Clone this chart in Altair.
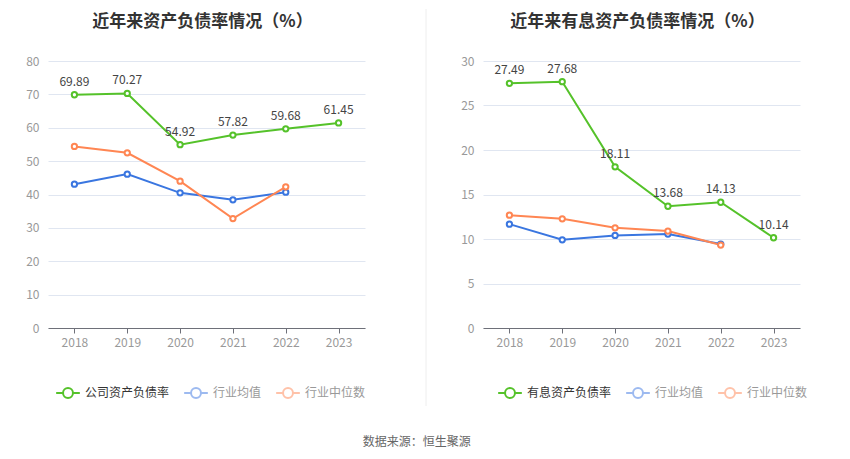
import altair as alt
import pandas as pd

years = ["2018", "2019", "2020", "2021", "2022", "2023"]

left_title = "近年来资产负债率情况（%）"
left_names = ["公司资产负债率", "行业均值", "行业中位数"]
left_company = [69.89, 70.27, 54.92, 57.82, 59.68, 61.45]
left_avg = [43.1, 46.1, 40.5, 38.4, 40.7]
left_median = [54.4, 52.5, 44.0, 32.8, 42.3]

right_title = "近年来有息资产负债率情况（%）"
right_names = ["有息资产负债率", "行业均值", "行业中位数"]
right_company = [27.49, 27.68, 18.11, 13.68, 14.13, 10.14]
right_avg = [11.67, 9.91, 10.40, 10.55, 9.43]
right_median = [12.68, 12.27, 11.26, 10.89, 9.32]

source_text = "数据来源：恒生聚源"

FONT = "Noto Sans CJK SC"
COLORS = ["#55c22a", "#3a76e0", "#ff8653"]
LEGEND_COLORS = ["#55c22a", "#9dbaf0", "#ffc2a9"]
SYMBOL = "M-1,0H-0.42M0.42,0H1M0.42,0A0.42,0.42,0,1,1,-0.42,0A0.42,0.42,0,1,1,0.42,0Z"
W, H = 317, 267


def panel(title, names, series, ymax, step, legend_x, divider=False):
    rows = []
    for name, vals in zip(names, series):
        for yr, v in zip(years, vals):
            rows.append({"year": yr, "series": name, "value": v})
    df = pd.DataFrame(rows)
    comp = df[df["series"] == names[0]]

    x = alt.X(
        "year:O",
        scale=alt.Scale(type="point", padding=0.5, domain=years),
        axis=alt.Axis(
            title=None, labelAngle=0, grid=False, domainColor="#6e7079",
            tickColor="#6e7079", tickSize=5, labelPadding=4,
        ),
    )
    y = alt.Y(
        "value:Q",
        scale=alt.Scale(domain=[0, ymax], nice=False, zero=True),
        axis=alt.Axis(
            title=None, values=list(range(0, ymax + 1, step)), domain=False,
            ticks=False, gridColor="#e0e6f1", labelPadding=9,
        ),
    )
    first = names[0]
    legend = alt.Legend(
        orient="none", legendX=legend_x, legendY=319, direction="horizontal",
        title=None, symbolType=SYMBOL, symbolSize=560, symbolStrokeWidth=2,
        symbolFillColor="white", labelFont=FONT, labelFontSize=12,
        labelColor=alt.ExprRef(f"datum.value === '{first}' ? '#333333' : '#999999'"),
        columnPadding=10, labelOffset=4,
    )
    legend_color = alt.Color(
        "series:N", scale=alt.Scale(domain=names, range=LEGEND_COLORS), legend=legend
    )
    stroke = alt.Stroke("series:N", scale=alt.Scale(domain=names, range=COLORS), legend=None)

    legend_layer = alt.Chart(df).transform_filter("false").mark_line(strokeWidth=2).encode(
        x=x, y=y, color=legend_color
    )
    lines = alt.Chart(df).mark_line(strokeWidth=2).encode(x=x, y=y, stroke=stroke, detail="series:N")
    points = alt.Chart(df).mark_point(
        shape="circle", filled=True, fill="white", strokeWidth=2, size=28, opacity=1
    ).encode(x=x, y=y, stroke=stroke)
    labels = alt.Chart(comp).mark_text(
        dy=-13, fontSize=12, color="#444444", font=FONT
    ).encode(x=x, y=y, text=alt.Text("value:Q", format=".2f"))
    title_mark = alt.Chart(pd.DataFrame({"t": [title]})).mark_text(
        fontSize=17, fontWeight="bold", color="#333333", font=FONT, baseline="middle", align="center"
    ).encode(text="t:N", x=alt.value(W / 2 - 4), y=alt.value(-39))

    layers = [legend_layer, lines, points, labels, title_mark]
    if divider:
        rule = alt.Chart(pd.DataFrame({"d": [0]})).mark_rule(color="#eeeeee", strokeWidth=1).encode(
            x=alt.value(-57), y=alt.value(-52), y2=alt.value(345)
        )
        layers = [rule] + layers
    return alt.layer(*layers).properties(width=W, height=H)


left = panel(left_title, left_names, [left_company, left_avg, left_median], 80, 10, 7)
right = panel(right_title, right_names, [right_company, right_avg, right_median], 30, 5, 14, divider=True)

chart = alt.hconcat(
    left, right, spacing=59,
    title=alt.TitleParams(
        source_text, orient="bottom", anchor="middle", fontSize=12,
        fontWeight="normal", color="#666666", font=FONT, offset=30,
    ),
).resolve_scale(
    x="independent", y="independent", color="independent", stroke="independent"
).properties(
    padding={"left": 17, "top": 0, "right": 0, "bottom": 0}
).configure_view(stroke=None).configure_axis(
    labelFont=FONT, labelFontSize=12, labelColor="#999999"
)

chart.save("out.html", embed_options={"renderer": "svg", "actions": False})
